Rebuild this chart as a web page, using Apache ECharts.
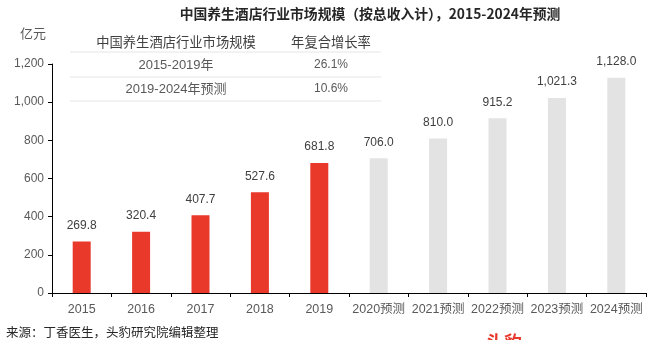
<!DOCTYPE html>
<html><head><meta charset="utf-8">
<script src="https://cdn.jsdelivr.net/npm/echarts@6/dist/echarts.min.js"></script>
<style>html,body{margin:0;padding:0;background:#fff}#c{width:666px;height:340px}</style>
</head><body><div id="c"></div>
<script>
const categories = ['2015','2016','2017','2018','2019','2020预测','2021预测','2022预测','2023预测','2024预测'];
const values = [269.8, 320.4, 407.7, 527.6, 681.8, 706.0, 810.0, 915.2, 1021.3, 1128.0];
const forecastFrom = 5;
const yTicks = [0, 200, 400, 600, 800, 1000, 1200];
const tableHeader = ['中国养生酒店行业市场规模', '年复合增长率'];
const tablePeriods = ['2015-2019年', '2019-2024年预测'];
const tableRates = ['26.1%', '10.6%'];
const titleText = '中国养生酒店行业市场规模（按总收入计），2015-2024年预测';
const unitText = '亿元';
const sourceText = '来源：丁香医生，头豹研究院编辑整理';

const FONT = '"Liberation Sans", "Noto Sans CJK SC", sans-serif';
const fmt = v => v.toLocaleString('en-US', {minimumFractionDigits: 1, maximumFractionDigits: 1});

const chart = echarts.init(document.getElementById('c'));
const graphic = [];
// table
const lineYs = [52, 77, 101];
lineYs.forEach(y => graphic.push({type:'line', shape:{x1:70,y1:y,x2:381,y2:y}, style:{stroke:'#e6e6e6', lineWidth:1}, silent:true}));
const colX = [176, 331];
graphic.push({type:'text', x:colX[0], y:42, style:{text:tableHeader[0], font:'13.3px "Noto Sans CJK SC", sans-serif', fill:'#404040', align:'center', verticalAlign:'middle'}});
graphic.push({type:'text', x:colX[1], y:42, style:{text:tableHeader[1], font:'13.3px "Noto Sans CJK SC", sans-serif', fill:'#404040', align:'center', verticalAlign:'middle'}});
const rowYs = [65, 89];
tablePeriods.forEach((p, i) => {
  graphic.push({type:'text', x:colX[0], y:rowYs[i], style:{text:p, font:'13px ' + FONT, fill:'#595959', align:'center', verticalAlign:'middle'}});
  graphic.push({type:'text', x:colX[1], y:rowYs[i], style:{text:tableRates[i], font:'12px ' + FONT, fill:'#595959', align:'center', verticalAlign:'middle'}});
});
graphic.push({type:'text', x:20, y:33, style:{text:unitText, font:'13px "Noto Sans CJK SC", sans-serif', fill:'#595959', align:'left', verticalAlign:'middle'}});
graphic.push({type:'text', x:6, y:332, style:{text:sourceText, font:'12.5px "Noto Sans CJK SC", sans-serif', fill:'#262626', align:'left', verticalAlign:'middle'}});
graphic.push({type:'text', x:486, y:333, style:{text:'头豹', font:'bold 18px "Noto Sans CJK SC", sans-serif', fill:'#e8392b', align:'left', verticalAlign:'top'}});

chart.setOption({
  animation: false,
  title: {text: titleText, left: 365, textAlign: 'center', top: 2,
    textStyle: {fontSize: 13.8, fontWeight: 'bold', color: '#262626', fontFamily: '"Noto Sans CJK SC", "Liberation Sans", sans-serif'}},
  grid: {left: 52, right: 20, top: 64, bottom: 47, containLabel: false},
  xAxis: {type: 'category', data: categories, boundaryGap: true,
    axisLine: {lineStyle: {color: '#000', width: 1}},
    axisTick: {show: true, alignWithLabel: false, length: 4, lineStyle: {color: '#000'}},
    axisLabel: {color: '#595959', fontSize: 12.5, fontFamily: FONT, margin: 10, interval: 0}},
  yAxis: {type: 'value', min: yTicks[0], max: yTicks[yTicks.length-1], interval: 200,
    axisLine: {show: true, lineStyle: {color: '#000', width: 1}},
    axisTick: {show: true, length: 4, lineStyle: {color: '#000'}},
    splitLine: {show: false},
    axisLabel: {color: '#595959', fontSize: 12, fontFamily: FONT, margin: 8,
      formatter: v => v.toLocaleString('en-US')}},
  series: [{
    type: 'bar', barWidth: 18,
    data: values.map((v, i) => ({value: v, itemStyle: {color: i < forecastFrom ? '#e8392b' : '#e3e3e3'}})),
    label: {show: true, position: 'top', distance: 10, color: '#404040', fontSize: 12, fontFamily: FONT,
      formatter: p => fmt(p.value)}
  }],
  graphic: graphic
});
</script></body></html>
